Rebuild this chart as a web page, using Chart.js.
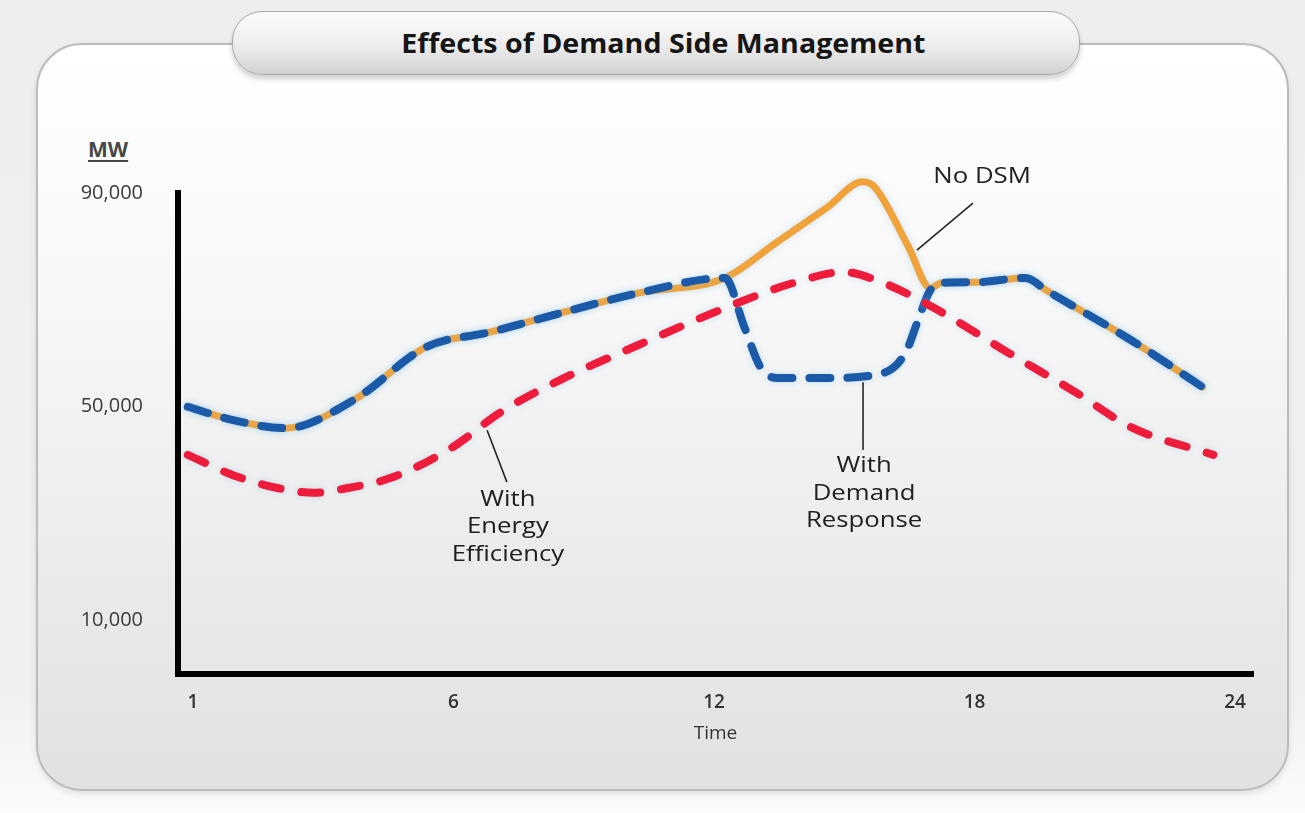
<!DOCTYPE html>
<html>
<head>
<meta charset="utf-8">
<title>Effects of Demand Side Management</title>
<script src="https://cdn.jsdelivr.net/npm/chart.js@4.4.1/dist/chart.umd.min.js"></script>
<style>
  html, body { margin: 0; padding: 0; }
  body {
    width: 1305px; height: 813px; position: relative; overflow: hidden;
    background: linear-gradient(#eeeeee 0%, #f0f0f0 85%, #fbfbfb 100%);
    font-family: 'Open Sans', sans-serif;
  }
  #panel {
    position: absolute; left: 36px; top: 43px; width: 1249px; height: 744px;
    border: 2px solid #bcbcbc; border-radius: 46px;
    background: linear-gradient(#ffffff 0%, #f7f7f7 35%, #e1e1e1 100%);
    box-shadow: 0 3px 6px rgba(0,0,0,0.10);
  }
  #title {
    position: absolute; left: 232px; top: 11px; width: 846px; height: 62px;
    border: 1.5px solid #a8a8a8; border-radius: 30px;
    background: linear-gradient(#fcfcfc 0%, #ececec 55%, #d2d2d2 100%);
    box-shadow: 0 4px 5px rgba(0,0,0,0.18);
    display: flex; align-items: center; justify-content: center;
    font-weight: 700; font-size: 26px; color: #161616;
  }
  #title span { display: inline-block; transform: scaleX(1.1); margin-left: 14px; }
  #mw {
    position: absolute; left: 88px; top: 135px;
    font-size: 21px; font-weight: 700; color: #474747;
    text-decoration: underline; text-underline-offset: 3px;
  }
  #chart { position: absolute; left: 0; top: 0; }
</style>
</head>
<body>
<div id="panel"></div>
<div id="title"><span>Effects of Demand Side Management</span></div>
<div id="mw">MW</div>
<canvas id="chart" width="1305" height="813"></canvas>
<script>
// axis ticks
const hourTicks = [1, 6, 12, 18, 24];
const mwTicks = [10000, 50000, 90000];

// No DSM (orange, solid)
const noDsmHours = [0.9, 1.77, 2.78, 4.09, 5.48, 6.86, 8.45, 10.27, 12.25, 13.45, 14.59, 15.43, 15.7, 16.48, 16.98, 17.25, 18, 19.18, 19.65, 21.6, 23.25];
const noDsmMW = [50000, 47500, 46000, 51300, 61200, 64000, 67500, 71300, 74100, 80800, 87200, 92100, 91100, 79900, 72200, 73200, 73300, 74100, 71800, 62500, 53700];

// With Demand Response (blue, dashed)
const demandHours = [0.9, 1.77, 2.78, 4.09, 5.48, 6.86, 8.45, 10.27, 12.25, 12.7, 13.07, 13.45, 14.6, 15.89, 16.41, 16.7, 16.98, 17.25, 18, 19.18, 19.65, 21.6, 23.25];
const demandMW = [50000, 47500, 46000, 51300, 61200, 64000, 67500, 71300, 74100, 64900, 57400, 55400, 55400, 56300, 60100, 66200, 71800, 73200, 73300, 74100, 71800, 62500, 53700];

// With Energy Efficiency (red, dashed)
const efficiencyHours = [0.9, 1.77, 2.62, 3.32, 3.97, 4.8, 5.96, 7.09, 8.45, 10.27, 12.32, 13.84, 14.98, 15.89, 17.02, 18.78, 20.35, 21.6, 23.5];
const efficiencyMW = [41000, 37200, 34800, 33900, 34800, 36700, 42300, 49000, 55000, 61600, 68700, 73200, 75200, 73200, 68700, 60100, 52600, 46200, 41000];

// the time axis labels sit evenly spaced, so hours are placed piecewise between them
function hourPos(h) {
  for (let i = 0; i < hourTicks.length - 1; i++) {
    const a = hourTicks[i], b = hourTicks[i + 1];
    if (h <= b || i === hourTicks.length - 2) return i + (h - a) / (b - a);
  }
}
const toPoints = (hs, vs) => hs.map((h, i) => ({ x: hourPos(h), y: vs[i] }));

// callouts: text lines, label centre (pos, MW), leader line from/to (pos, MW)
const callouts = [
  { lines: ['No DSM'], x: 3.029, y: 93000, from: [2.994, 88100], to: [2.779, 79300] },
  { lines: ['With', 'Demand', 'Response'], x: 2.576, y: 38900, from: [2.572, 54600], to: [2.572, 41900] },
  { lines: ['With', 'Energy', 'Efficiency'], x: 1.209, y: 32600, from: [1.129, 45600], to: [1.205, 35900] }
];

const glow = {
  id: 'glow',
  beforeDatasetDraw(chart) {
    const ctx = chart.ctx;
    ctx.save();
    ctx.shadowColor = 'rgba(140,200,235,0.45)';
    ctx.shadowBlur = 6;
  },
  afterDatasetDraw(chart) { chart.ctx.restore(); }
};

const calloutPlugin = {
  id: 'callouts',
  afterDatasetsDraw(chart) {
    const { ctx, scales: { x, y } } = chart;
    ctx.save();
    ctx.strokeStyle = '#262626';
    ctx.lineWidth = 1.6;
    ctx.fillStyle = '#202020';
    ctx.font = '400 22px "Open Sans"';
    ctx.textAlign = 'center';
    ctx.textBaseline = 'middle';
    const lineStep = y.getPixelForValue(0) - y.getPixelForValue(5100);
    callouts.forEach(c => {
      ctx.beginPath();
      ctx.moveTo(x.getPixelForValue(c.from[0]), y.getPixelForValue(c.from[1]));
      ctx.lineTo(x.getPixelForValue(c.to[0]), y.getPixelForValue(c.to[1]));
      ctx.stroke();
      const cx = x.getPixelForValue(c.x);
      const cy = y.getPixelForValue(c.y);
      c.lines.forEach((t, i) => {
        ctx.save();
        ctx.translate(cx, cy + i * lineStep);
        ctx.scale(1.17, 1);
        ctx.fillText(t, 0, 0);
        ctx.restore();
      });
    });
    ctx.restore();
  }
};

new Chart(document.getElementById('chart'), {
  type: 'line',
  data: {
    datasets: [
      {
        label: 'With Energy Efficiency',
        data: toPoints(efficiencyHours, efficiencyMW),
        borderColor: '#ee1c3a',
        borderWidth: 8,
        borderDash: [19, 21],
        borderCapStyle: 'round',
        order: 0
      },
      {
        label: 'With Demand Response',
        data: toPoints(demandHours, demandMW),
        borderColor: '#1b5aa9',
        borderWidth: 8,
        borderDash: [21, 17],
        borderCapStyle: 'round',
        order: 1
      },
      {
        label: 'No DSM',
        data: toPoints(noDsmHours, noDsmMW),
        borderColor: '#f1a33a',
        borderWidth: 7,
        borderCapStyle: 'round',
        order: 2
      }
    ]
  },
  options: {
    responsive: false,
    animation: false,
    clip: false,
    elements: {
      point: { radius: 0 },
      line: { cubicInterpolationMode: 'monotone', borderJoinStyle: 'round' }
    },
    layout: { padding: { top: 193, right: 52, bottom: 68, left: 0 } },
    plugins: { legend: { display: false }, tooltip: { enabled: false } },
    scales: {
      x: {
        type: 'linear',
        min: -0.0576,
        max: 4.069,
        grid: { display: false, drawTicks: false },
        border: { display: true, color: '#000', width: 6 },
        afterBuildTicks: s => { s.ticks = hourTicks.map((h, i) => ({ value: i })); },
        afterFit: s => { s.height = 71; },
        ticks: {
          padding: 17,
          color: '#333',
          font: { family: 'Open Sans', size: 19, weight: '600' },
          callback: v => String(hourTicks[Math.round(v)])
        },
        title: {
          display: true, text: 'Time', color: '#333',
          font: { family: 'Open Sans', size: 19 },
          padding: { top: 0, bottom: 0 }
        }
      },
      y: {
        min: 0,
        max: 90000,
        grid: { display: false, drawTicks: false },
        border: { display: true, color: '#000', width: 6 },
        afterBuildTicks: s => { s.ticks = mwTicks.map(v => ({ value: v })); },
        afterFit: s => { s.width = 178; },
        ticks: {
          padding: 35,
          color: '#3a3a3a',
          font: { family: 'Open Sans', size: 20 },
          callback: v => v.toLocaleString('en-US')
        }
      }
    }
  },
  plugins: [glow, calloutPlugin]
});
</script>
</body>
</html>
